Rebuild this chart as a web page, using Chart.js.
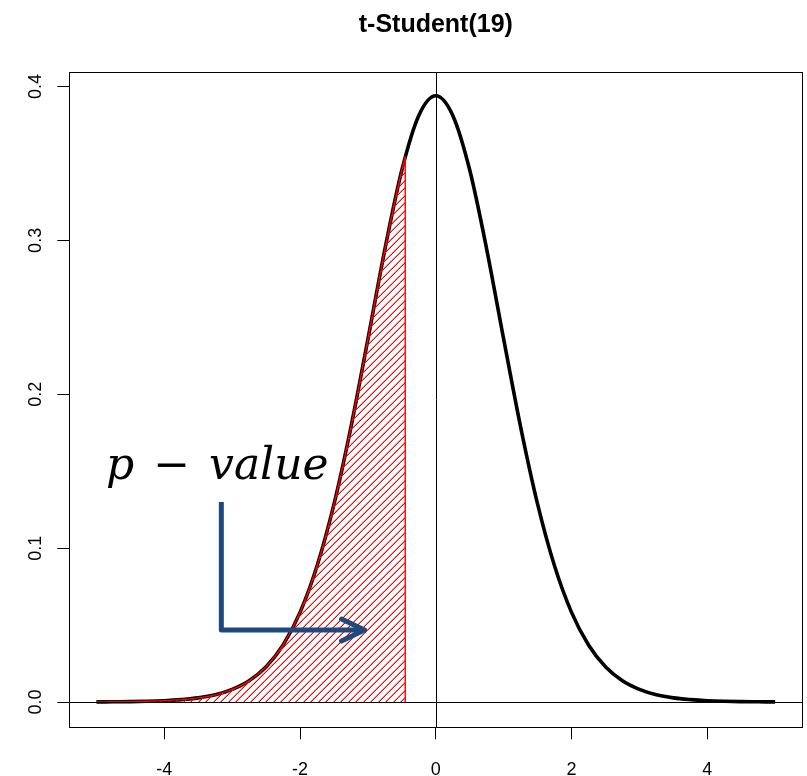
<!DOCTYPE html>
<html>
<head>
<meta charset="utf-8">
<title>t-Student(19)</title>
<script src="https://cdn.jsdelivr.net/npm/chart.js@4.4.0/dist/chart.umd.min.js"></script>
<style>
  html, body { margin: 0; padding: 0; background: #fff; }
  #wrap { position: relative; width: 807px; height: 776px; }
  #grafico { position: absolute; left: 0; top: 0; }
  #pvalue {
    position: absolute; left: 106px; top: 442px;
    font-family: "DejaVu Serif", serif; font-style: italic;
    font-size: 44px; line-height: 44px; color: #000;
    white-space: pre; word-spacing: 5px;
  }
  #pvalue .op { font-style: normal; }
</style>
</head>
<body>
<div id="wrap">
  <canvas id="grafico" width="807" height="776"></canvas>
  <div id="pvalue">p <span class="op">−</span> value</div>
</div>
<script>
// datos: densidad t-Student con 19 g.l.
const xs = [-5, -4.75, -4.5, -4.25, -4, -3.75, -3.5, -3.25, -3, -2.75, -2.5, -2.25, -2, -1.75, -1.5, -1.25, -1, -0.75, -0.5, -0.25,
            0, 0.25, 0.5, 0.75, 1, 1.25, 1.5, 1.75, 2, 2.25, 2.5, 2.75, 3, 3.25, 3.5, 3.75, 4, 4.25, 4.5, 4.75, 5];
const densidad = [0.0001, 0.0002, 0.0003, 0.0005, 0.0009, 0.0016, 0.0027, 0.0047, 0.0082, 0.0138, 0.0229, 0.0371, 0.0583, 0.0884, 0.1286, 0.1787, 0.2358, 0.2942, 0.3457, 0.3812,
                  0.3940, 0.3812, 0.3457, 0.2942, 0.2358, 0.1787, 0.1286, 0.0884, 0.0583, 0.0371, 0.0229, 0.0138, 0.0082, 0.0047, 0.0027, 0.0016, 0.0009, 0.0005, 0.0003, 0.0002, 0.0001];

// zona sombreada (p-valor) hasta t = -0.45
const pX = [-5, -4.75, -4.5, -4.25, -4, -3.75, -3.5, -3.25, -3, -2.75, -2.5, -2.25, -2, -1.75, -1.5, -1.25, -1, -0.75, -0.5, -0.45];
const pY = [0.0001, 0.0002, 0.0003, 0.0005, 0.0009, 0.0016, 0.0027, 0.0047, 0.0082, 0.0138, 0.0229, 0.0371, 0.0583, 0.0884, 0.1286, 0.1787, 0.2358, 0.2942, 0.3457, 0.3543];

const xTicks = [-4, -2, 0, 2, 4];
const xTickLabels = ['-4', '-2', '0', '2', '4'];
const yTicks = [0, 0.1, 0.2, 0.3, 0.4];
const yTickLabels = ['0.0', '0.1', '0.2', '0.3', '0.4'];

const titulo = 't-Student(19)';

// flecha de la anotacion (en unidades de los ejes)
const flechaX = -3.16, flechaTopY = 0.130, flechaY = 0.0468, flechaPuntaX = -1.05;

const FUENTE = '"Liberation Sans", Arial, Helvetica, sans-serif';

// rayado rojo tipo density= de R (lineas a 45 grados, ~7.5 px)
function rayado() {
  const c = document.createElement('canvas');
  c.width = 15; c.height = 15;
  const g = c.getContext('2d');
  for (let i = 0; i < 15; i++) {
    for (let j = 0; j < 15; j++) {
      const k = (i + j) % 15;
      if (k === 0 || k === 7) {
        g.fillStyle = '#FF0000';
        g.fillRect(i, j, 1, 1);
      } else if (k === 6 || k === 14) {
        g.fillStyle = 'rgba(255,0,0,0.45)';
        g.fillRect(i, j, 1, 1);
      }
    }
  }
  return g.createPattern(c, 'repeat');
}

// ejes estilo R: caja, lineas en 0, titulo, etiquetas del eje y giradas y la flecha
const marcoR = {
  id: 'marcoR',
  afterDatasetsDraw(chart) {
    const { ctx, chartArea: a, scales: { x, y } } = chart;
    ctx.save();
    ctx.strokeStyle = '#000';
    ctx.lineWidth = 1;
    const x0 = Math.round(x.getPixelForValue(0)) + 0.5;
    const y0 = Math.round(y.getPixelForValue(0)) + 0.5;
    ctx.beginPath();
    ctx.moveTo(x0, a.top); ctx.lineTo(x0, a.bottom);
    ctx.moveTo(a.left, y0); ctx.lineTo(a.right, y0);
    ctx.stroke();
    const l = Math.floor(a.left) + 0.5, r = Math.floor(a.right) + 0.5;
    const t = Math.floor(a.top) + 0.5, b = Math.floor(a.bottom) + 0.5;
    ctx.strokeRect(l, t, r - l, b - t);

    // titulo centrado sobre el area del grafico
    ctx.fillStyle = '#000';
    ctx.font = 'bold 25px ' + FUENTE;
    ctx.textAlign = 'center';
    ctx.textBaseline = 'alphabetic';
    ctx.fillText(titulo, (a.left + a.right) / 2, 32);

    // etiquetas eje y
    ctx.font = '18px ' + FUENTE;
    yTicks.forEach((v, i) => {
      ctx.save();
      ctx.translate(40.8, y.getPixelForValue(v));
      ctx.rotate(-Math.PI / 2);
      ctx.fillText(yTickLabels[i], 0, 0);
      ctx.restore();
    });

    // flecha
    const ax = x.getPixelForValue(flechaX);
    const ay0 = y.getPixelForValue(flechaTopY);
    const ay = y.getPixelForValue(flechaY);
    const tx = x.getPixelForValue(flechaPuntaX);
    ctx.strokeStyle = '#1F497D';
    ctx.lineWidth = 5;
    ctx.lineJoin = 'round';
    ctx.lineCap = 'butt';
    ctx.beginPath();
    ctx.moveTo(ax, ay0); ctx.lineTo(ax, ay); ctx.lineTo(tx - 2, ay);
    ctx.stroke();
    ctx.lineCap = 'round';
    ctx.beginPath();
    ctx.moveTo(tx - 23, ay - 11); ctx.lineTo(tx, ay); ctx.lineTo(tx - 23, ay + 11);
    ctx.stroke();
    ctx.restore();
  }
};

const ctx = document.getElementById('grafico');

new Chart(ctx, {
  type: 'line',
  data: {
    datasets: [
      {
        label: 'p-value',
        data: pX.map((v, i) => ({ x: v, y: pY[i] })),
        borderColor: '#FF0000',
        borderWidth: 1.4,
        backgroundColor: rayado(),
        fill: 'origin',
        cubicInterpolationMode: 'monotone',
        pointRadius: 0,
        order: 1
      },
      {
        label: 'borde',
        data: [{ x: pX[pX.length - 1], y: 0 }, { x: pX[pX.length - 1], y: pY[pY.length - 1] }],
        borderColor: '#FF0000',
        borderWidth: 1.4,
        fill: false,
        pointRadius: 0,
        order: 1
      },
      {
        label: titulo,
        data: xs.map((v, i) => ({ x: v, y: densidad[i] })),
        borderColor: '#000',
        borderWidth: 3.6,
        fill: false,
        cubicInterpolationMode: 'monotone',
        pointRadius: 0,
        order: 2
      }
    ]
  },
  options: {
    responsive: false,
    animation: false,
    layout: { padding: { left: 0, right: 4.7, top: 72, bottom: 0 } },
    plugins: {
      legend: { display: false },
      tooltip: { enabled: false },
      title: { display: false }
    },
    scales: {
      x: {
        type: 'linear',
        min: -5.4,
        max: 5.4,
        afterBuildTicks: s => { s.ticks = xTicks.map(v => ({ value: v })); },
        afterFit: s => { s.height = 48.7; },
        grid: { drawOnChartArea: false, drawTicks: true, tickLength: 12, color: '#000', lineWidth: 1 },
        border: { display: false },
        ticks: {
          padding: 20,
          color: '#000',
          font: { family: FUENTE, size: 18 },
          maxRotation: 0,
          autoSkip: false,
          callback: (v, i) => xTickLabels[i]
        }
      },
      y: {
        type: 'linear',
        min: -0.0164,
        max: 0.4094,
        afterBuildTicks: s => { s.ticks = yTicks.map(v => ({ value: v })); },
        afterFit: s => { s.width = 69.3; },
        grid: { drawOnChartArea: false, drawTicks: true, tickLength: 12, color: '#000', lineWidth: 1 },
        border: { display: false },
        ticks: { display: false }
      }
    }
  },
  plugins: [marcoR]
});
</script>
</body>
</html>
